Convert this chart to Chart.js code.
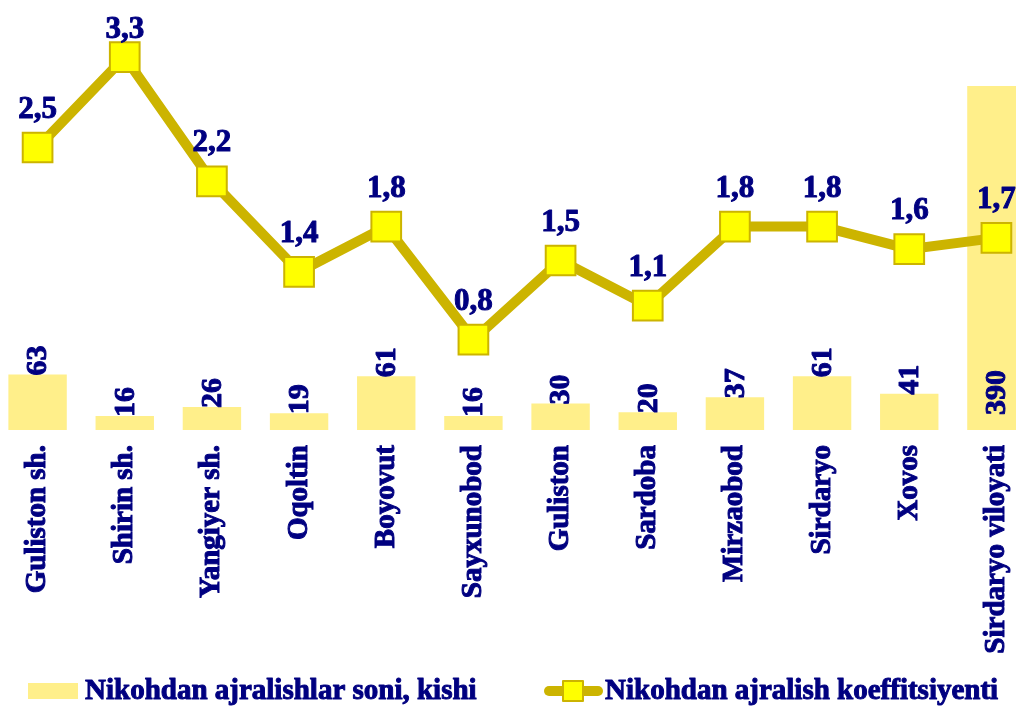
<!DOCTYPE html>
<html>
<head>
<meta charset="utf-8">
<script src="https://cdn.jsdelivr.net/npm/chart.js@4.4.0/dist/chart.umd.min.js"></script>
<style>
  html, body { margin: 0; padding: 0; background: #fff; overflow: hidden; }
  #grafico { position: absolute; left: -6px; top: 0; }
</style>
</head>
<body>
<canvas id="grafico" width="1046" height="706"></canvas>
<script>
var tumanlar = ['Guliston sh.', 'Shirin sh.', 'Yangiyer sh.', 'Oqoltin', 'Boyovut', 'Sayxunobod',
    'Guliston', 'Sardoba', 'Mirzaobod', 'Sirdaryo', 'Xovos', 'Sirdaryo viloyati'];
var ajralishlar = [63, 16, 26, 19, 61, 16, 30, 20, 37, 61, 41, 390];
var koeffitsiyent = [2.5, 3.3, 2.2, 1.4, 1.8, 0.8, 1.5, 1.1, 1.8, 1.8, 1.6, 1.7];

var shrift = '"Liberation Serif", "Times New Roman", serif';
var kok = '#000080';
var sariqUstun = '#FFEF8A';
var sariqChiziq = '#CCB400';

// qalin ko'rinishi uchun matnni chizib, ustidan hoshiya beramiz
function yoz(ctx, t, x, y) {
    ctx.fillText(t, x, y);
    ctx.strokeText(t, x, y);
}

function nolPadding(s) {
    s.paddingLeft = 0;
    s.paddingRight = 0;
    s.paddingTop = 0;
    s.paddingBottom = 0;
}

var yozuvlar = {
    id: 'yozuvlar',
    afterDatasetsDraw: function (chart) {
        var ctx = chart.ctx;
        ctx.save();
        ctx.fillStyle = kok;
        ctx.strokeStyle = kok;
        ctx.lineWidth = 1;
        ctx.lineJoin = 'round';

        // ustun qiymatlari, vertikal
        var ustunlar = chart.getDatasetMeta(0).data;
        ctx.font = 'bold 30px ' + shrift;
        ctx.textBaseline = 'middle';
        ctx.textAlign = 'left';
        ustunlar.forEach(function (b, i) {
            var h = b.base - b.y;
            ctx.save();
            if (h > 200) {
                ctx.translate(b.x, b.base - 15);
            } else {
                ctx.translate(b.x, b.y + 1);
            }
            ctx.rotate(-Math.PI / 2);
            yoz(ctx, String(ajralishlar[i]), 0, 1);
            ctx.restore();
        });

        // chiziq qiymatlari
        var nuqtalar = chart.getDatasetMeta(1).data;
        ctx.font = 'bold 31px ' + shrift;
        ctx.textAlign = 'center';
        ctx.textBaseline = 'alphabetic';
        nuqtalar.forEach(function (p, i) {
            var y = Math.max(p.y - 30, 38);
            yoz(ctx, String(koeffitsiyent[i]).replace('.', ','), p.x, y);
        });

        // legenda
        var ly = 691;
        ctx.font = 'bold 29px ' + shrift;
        ctx.textAlign = 'left';
        ctx.textBaseline = 'middle';
        ctx.fillStyle = sariqUstun;
        ctx.fillRect(34, ly - 8, 50, 16);
        ctx.fillStyle = kok;
        yoz(ctx, chart.data.datasets[0].label, 91, ly + 1);

        ctx.strokeStyle = sariqChiziq;
        ctx.lineWidth = 10;
        ctx.lineCap = 'round';
        ctx.beginPath();
        ctx.moveTo(555, ly);
        ctx.lineTo(604, ly);
        ctx.stroke();
        ctx.fillStyle = '#FFFF00';
        ctx.lineWidth = 2;
        ctx.lineCap = 'butt';
        ctx.fillRect(569, ly - 10, 20, 20);
        ctx.strokeRect(569, ly - 10, 20, 20);
        ctx.fillStyle = kok;
        ctx.strokeStyle = kok;
        ctx.lineWidth = 1;
        yoz(ctx, chart.data.datasets[1].label, 611, ly + 1);
        ctx.restore();
    }
};

new Chart(document.getElementById('grafico'), {
    type: 'bar',
    data: {
        labels: tumanlar,
        datasets: [{
            type: 'bar',
            label: 'Nikohdan ajralishlar soni, kishi',
            data: ajralishlar,
            backgroundColor: sariqUstun,
            barPercentage: 0.67,
            categoryPercentage: 1,
            yAxisID: 'y',
            order: 2
        }, {
            type: 'line',
            label: 'Nikohdan ajralish koeffitsiyenti',
            data: koeffitsiyent,
            borderColor: sariqChiziq,
            borderWidth: 10,
            pointStyle: 'rect',
            pointRadius: 21,
            pointBorderWidth: 2,
            pointBackgroundColor: '#FFFF00',
            pointBorderColor: sariqChiziq,
            tension: 0,
            clip: false,
            yAxisID: 'y1',
            order: 1
        }]
    },
    options: {
        responsive: false,
        animation: false,
        layout: { autoPadding: false, padding: { top: 10, bottom: 50, left: 0, right: 0 } },
        plugins: {
            legend: { display: false },
            tooltip: { enabled: false }
        },
        scales: {
            x: {
                grid: { display: false },
                border: { display: false },
                ticks: {
                    minRotation: 90,
                    maxRotation: 90,
                    autoSkip: false,
                    padding: 7,
                    color: kok,
                    textStrokeColor: kok,
                    textStrokeWidth: 1,
                    font: { family: shrift, size: 29, weight: 'bold' }
                },
                afterFit: function (s) { s.height = 226; nolPadding(s); }
            },
            y: {
                display: false,
                min: 0,
                max: 476,
                afterFit: nolPadding
            },
            y1: {
                display: false,
                min: 0,
                max: 3.717,
                afterFit: nolPadding
            }
        }
    },
    plugins: [yozuvlar]
});
</script>
</body>
</html>
